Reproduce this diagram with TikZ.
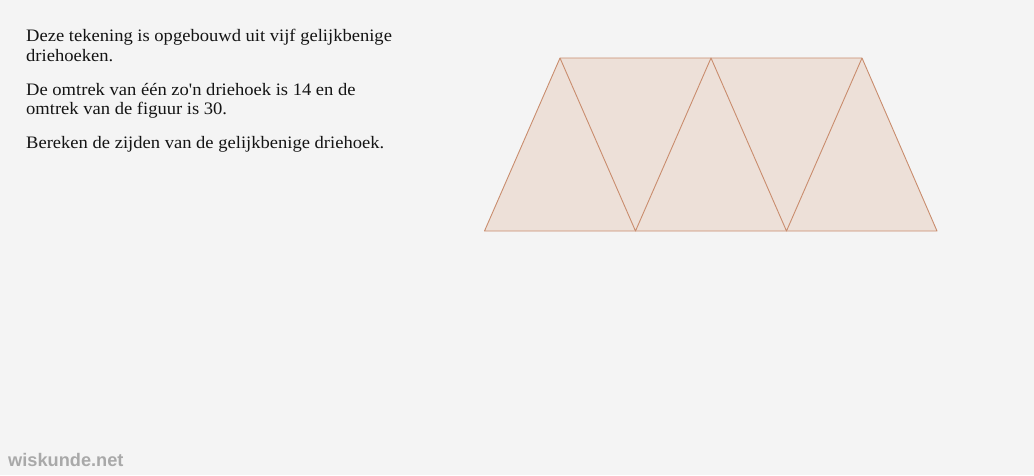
\documentclass[tikz,border=0pt]{standalone}
\usepackage{fontspec}
\setmainfont[FakeStretch=1.06]{Liberation Serif}
\newfontfamily\wmfont{Liberation Sans}
\newfontfamily\plainserif[FakeStretch=1.06,Ligatures=ResetAll]{Liberation Serif}
\definecolor{bg}{HTML}{F4F4F4}
\definecolor{trifill}{HTML}{EDE0D8}
\definecolor{triline}{HTML}{C98D6E}
\definecolor{wm}{HTML}{A9A9A9}
\definecolor{txt}{HTML}{141414}
\begin{document}
\begin{tikzpicture}[x=1pt,y=-1pt,
  para/.style={anchor=base west,inner sep=0pt,text=txt,font=\fontsize{17.5}{20}\selectfont},
  edge/.style={draw=triline,line width=0.9pt,line join=round}]
\fill[bg] (0,0) rectangle (1034,475);
\useasboundingbox (0,0) rectangle (1034,475);
% vertices
\coordinate (b1) at (484.5,231);
\coordinate (b2) at (635.5,231);
\coordinate (b3) at (786.5,231);
\coordinate (b4) at (937,231);
\coordinate (t1) at (560,58);
\coordinate (t2) at (711,58);
\coordinate (t3) at (862,58);
\fill[trifill] (b1) -- (b4) -- (t3) -- (t1) -- cycle;
\draw[edge] (b1) -- (b4) -- (t3) -- (t1) -- cycle;
\draw[edge] (t1) -- (b2) -- (t2) -- (b3) -- (t3);
% text
\node[para] (l1) at (26,41.7) {Deze tekening is opgebouwd uit vijf gelijkbenige};
\node[para] (l2) at (26,61.7) {driehoeken.};
\node[para] (l3) at (26,95) {De omtrek van één zo{\plainserif '}n driehoek is 14 en de};
\node[para] (l4) at (26,114.5) {omtrek van de figuur is 30.};
\node[para] (l5) at (26,148.3) {Bereken de zijden van de gelijkbenige driehoek.};
\node[anchor=base west,inner sep=0pt,text=wm,font=\wmfont\bfseries\fontsize{18.2}{20}\selectfont] (wmk) at (8,466.5) {wiskunde.net};
\end{tikzpicture}
\end{document}
